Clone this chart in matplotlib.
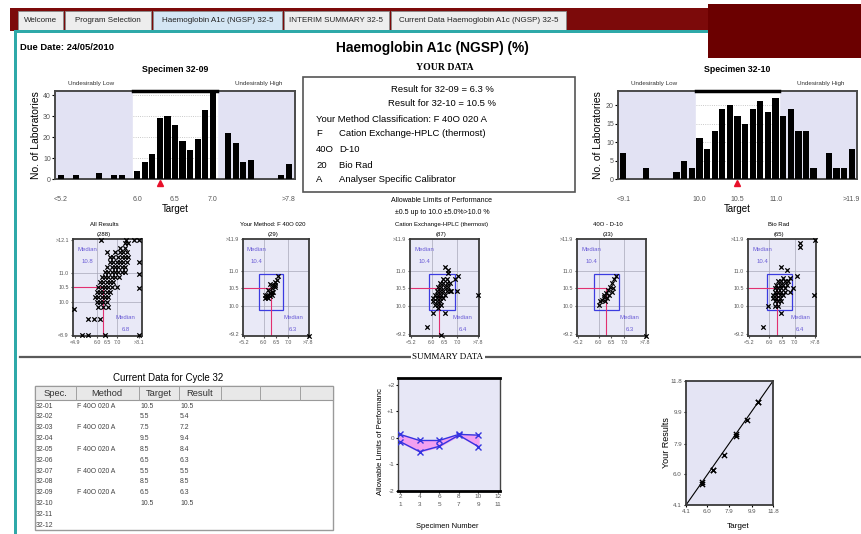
import matplotlib
matplotlib.use('Agg')
import matplotlib.pyplot as plt
import matplotlib.transforms as mtransforms
from matplotlib.patches import Rectangle
from matplotlib import font_manager

# ---------------- data ----------------
tabs = ["Welcome", "Program Selection", "Haemoglobin A1c (NGSP) 32-5",
        "INTERIM SUMMARY 32-5", "Current Data Haemoglobin A1c (NGSP) 32-5"]

spec09_counts = [2, 0, 2, 0, 0, 3, 0, 2, 2, 0, 4, 8, 12, 29, 30, 26, 18, 14, 19, 33, 41,
                 0, 22, 17, 8, 9, 0, 0, 0, 2, 7]
spec09_ticklabels = ['<5.2', '6.0', '6.5', '7.0', '>7.8']
spec10_counts = [7, 0, 0, 3, 0, 0, 0, 2, 5, 3, 11, 8, 13, 19, 20, 17, 15, 19, 21, 18, 22,
                 17, 19, 13, 13, 3, 0, 7, 3, 3, 8]
spec10_ticklabels = ['<9.1', '10.0', '10.5', '11.0', '>11.9']
hist_tick_slots = [0, 10, 15, 20, 30]
result09_slot = 13
result10_slot = 15

your_result = (6.3, 10.5)

youden_titles = ['All Results', 'Your Method: F 40O 020', 'Cation Exchange-HPLC (thermost)',
                 '40O - D-10', 'Bio Rad']
youden_counts = [288, 29, 87, 33, 65]
youden_median_y = [10.8, 10.4, 10.4, 10.4, 10.4]
youden_median_x = [6.8, 6.3, 6.4, 6.3, 6.4]

p1_points = [(6.2, 12.1), (7.45, 12.1), (7.87, 12.1), (8.1, 12.1),
             (7.4, 12.0), (7.57, 12.0), (7.15, 11.83), (7.4, 11.83),
             (6.48, 11.71), (6.9, 11.71), (7.15, 11.71), (7.32, 11.71), (7.48, 11.71),
             (6.65, 11.54), (6.82, 11.54), (7.07, 11.54), (7.23, 11.54), (7.4, 11.54), (7.57, 11.54),
             (6.65, 11.37), (6.82, 11.37), (6.98, 11.37), (7.15, 11.37), (7.32, 11.37), (7.48, 11.37),
             (6.48, 11.2), (6.73, 11.2), (6.9, 11.2), (7.07, 11.2), (7.23, 11.2), (7.4, 11.2),
             (6.4, 11.02), (6.57, 11.02), (6.73, 11.02), (6.9, 11.02), (7.07, 11.02), (7.23, 11.02), (7.4, 11.02),
             (6.23, 10.85), (6.4, 10.85), (6.57, 10.85), (6.73, 10.85), (6.9, 10.85), (7.1, 10.85),
             (6.15, 10.68), (6.32, 10.68), (6.48, 10.68), (6.65, 10.68), (6.82, 10.68),
             (6.07, 10.51), (6.23, 10.51), (6.4, 10.51), (6.57, 10.51), (6.73, 10.51), (6.98, 10.51),
             (5.98, 10.33), (6.15, 10.33), (6.32, 10.33), (6.48, 10.33), (6.65, 10.33),
             (5.9, 10.16), (6.07, 10.16), (6.23, 10.16), (6.4, 10.16), (6.57, 10.16),
             (5.98, 9.99), (6.15, 9.99), (6.32, 9.99), (6.48, 9.99),
             (6.07, 9.82), (6.32, 9.82), (6.57, 9.82),
             (8.1, 11.37), (8.1, 10.97), (8.1, 10.47), (8.1, 8.9), (5.23, 8.9), (5.57, 8.9),
             (6.4, 8.9), (4.85, 9.76), (5.57, 9.44), (5.83, 9.44), (6.13, 9.44)]
p2_points = [(6.59, 10.84), (6.53, 10.74), (6.46, 10.67), (6.39, 10.6), (6.25, 10.62),
             (6.46, 10.54), (6.32, 10.51), (6.19, 10.46), (6.39, 10.41), (6.25, 10.37),
             (6.12, 10.32), (6.25, 10.29), (6.12, 10.25), (6.19, 10.22), (6.05, 10.22),
             (6.32, 10.41), (6.05, 10.3), (6.32, 10.3), (6.46, 10.6), (7.85, 9.15)]
p3_points = [(6.45, 10.76), (6.58, 10.76),
             (6.32, 10.65), (6.45, 10.65), (6.58, 10.65), (6.71, 10.65),
             (6.25, 10.55), (6.38, 10.55), (6.51, 10.55), (6.64, 10.55),
             (6.19, 10.43), (6.32, 10.43), (6.45, 10.43), (6.58, 10.43), (6.71, 10.43),
             (6.12, 10.32), (6.25, 10.32), (6.38, 10.32), (6.51, 10.32),
             (6.06, 10.22), (6.19, 10.22), (6.32, 10.22), (6.45, 10.22),
             (6.06, 10.13), (6.19, 10.13), (6.32, 10.13),
             (6.12, 10.03), (6.25, 10.03), (6.38, 10.03), (6.25, 9.94),
             (6.51, 11.12), (6.64, 11.03), (7.03, 10.86), (6.9, 10.76), (6.97, 10.43),
             (6.77, 10.43), (7.81, 10.32), (6.06, 9.8), (6.51, 9.8), (5.8, 9.4),
             (6.35, 9.18), (6.64, 10.93)]
p4_points = [(6.68, 10.86), (6.6, 10.76), (6.51, 10.65), (6.45, 10.55), (6.55, 10.51),
             (6.38, 10.46), (6.51, 10.41), (6.29, 10.36), (6.42, 10.32), (6.19, 10.25),
             (6.32, 10.22), (6.12, 10.17), (6.25, 10.13), (6.03, 10.03), (6.19, 10.32),
             (6.05, 10.15), (7.85, 9.15)]
p5_points = [(6.54, 10.79), (6.81, 10.79),
             (6.35, 10.7), (6.48, 10.7), (6.61, 10.7), (6.74, 10.7),
             (6.28, 10.6), (6.41, 10.6), (6.54, 10.6), (6.68, 10.6),
             (6.21, 10.51), (6.35, 10.51), (6.48, 10.51), (6.61, 10.51), (6.94, 10.51),
             (6.21, 10.41), (6.35, 10.41), (6.48, 10.41), (6.61, 10.41), (6.81, 10.41),
             (6.15, 10.32), (6.28, 10.32), (6.41, 10.32), (6.54, 10.32),
             (6.15, 10.22), (6.28, 10.22), (6.41, 10.22),
             (6.21, 10.13), (6.35, 10.13), (6.48, 10.13),
             (5.95, 10.0), (6.21, 10.0), (6.35, 10.0),
             (6.48, 11.12), (6.68, 11.03), (7.08, 10.84), (7.21, 11.79), (7.21, 11.67),
             (7.81, 11.88), (7.78, 10.32), (5.75, 9.4), (6.48, 9.8)]

table_spec = ['32-01', '32-02', '32-03', '32-04', '32-05', '32-06', '32-07', '32-08',
              '32-09', '32-10', '32-11', '32-12']
table_method = ['F 40O 020 A', '', 'F 40O 020 A', '', 'F 40O 020 A', '', 'F 40O 020 A', '',
                'F 40O 020 A', '', '', '']
table_target = [10.5, 5.5, 7.5, 9.5, 8.5, 6.5, 5.5, 8.5, 6.5, 10.5]
table_result = [10.5, 5.4, 7.2, 9.4, 8.4, 6.3, 5.5, 8.5, 6.3, 10.5]

pair_pos = [1, 2, 3, 4, 5]
dev_even = [0.13, -0.1, -0.1, 0.13, 0.1]
dev_odd = [-0.14, -0.52, -0.32, 0.1, -0.33]
pair_labels = ['2\n1', '4\n3', '6\n5', '8\n7', '10\n9', '12\n11']

# ---------------- fonts ----------------
available = {f.name for f in font_manager.fontManager.ttflist}
NARROW = [f for f in ['Liberation Sans Narrow', 'DejaVu Sans Condensed', 'Liberation Sans', 'DejaVu Sans']
          if f in available] or ['DejaVu Sans']
SANS = [f for f in ['Liberation Sans', 'DejaVu Sans'] if f in available] or ['DejaVu Sans']
SERIF = [f for f in ['Liberation Serif', 'DejaVu Serif'] if f in available] or ['DejaVu Serif']
IS_NARROW = NARROW[0] in ('Liberation Sans Narrow', 'DejaVu Sans Condensed')
NS = 1.0 if IS_NARROW else 0.9
plt.rcParams['font.family'] = NARROW

# ---------------- figure ----------------
W, H = 862, 534
fig = plt.figure(figsize=(W / 100, H / 100), dpi=100)


def px_axes(l, t, r, b):
    return fig.add_axes([l / W, 1 - b / H, (r - l) / W, (b - t) / H])


bg = px_axes(0, 0, W, H)
bg.set_xlim(0, W)
bg.set_ylim(H, 0)
bg.axis('off')

# header / tabs
bg.add_patch(Rectangle((10, 8), 698, 23, color='#7c0a0a', lw=0))
bg.add_patch(Rectangle((708, 4), 154, 54, color='#6b0000', lw=0))
tab_edges = [18, 65, 153, 284, 391, 568]
for i, name in enumerate(tabs):
    l, r = tab_edges[i], tab_edges[i + 1]
    fc = '#d4e6f4' if i == 2 else '#ededed'
    bg.add_patch(Rectangle((l, 11), r - l - 2, 19, fc=fc, ec='#8a8a8a', lw=0.6))
    bg.text((l + r - 2) / 2, 20.5, name, ha='center', va='center', fontsize=6.4 * NS, color='#222')
bg.add_patch(Rectangle((14, 30), 694, 3, color='#2fa9a9', lw=0))
bg.add_patch(Rectangle((14, 30), 3, 504, color='#2fa9a9', lw=0))

bg.text(20, 48, 'Due Date: 24/05/2010', ha='left', va='center', fontsize=7.5 * NS, weight='bold')
bg.text(432, 48, 'Haemoglobin A1c (NGSP) (%)', ha='center', va='center', fontsize=11 * NS, weight='bold')


# ---------------- histograms ----------------
def histogram(l, r, counts, ticklabels, ymax, yticks, title, res_slot, ylab_x, white, xlo, xhi):
    t, b = 91, 179
    ax = px_axes(l, t, r, b)
    ax.set_facecolor('#e2e2f3')
    ax.axvspan(white[0], white[1], color='white', zorder=0)
    ax.hlines(yticks[1:], white[0], white[1], colors='#b8b8b8', linestyles=':', lw=0.6, zorder=1)
    ax.bar(range(len(counts)), counts, width=0.82, color='black', zorder=3)
    ax.set_xlim(xlo, xhi)
    ax.set_ylim(0, ymax)
    ax.plot([white[0], white[1]], [ymax, ymax], color='black', lw=2.5, clip_on=False, zorder=5)
    ax.set_xticks(hist_tick_slots)
    ax.set_xticklabels(ticklabels)
    ax.set_yticks(yticks)
    ax.tick_params(axis='x', length=0, pad=12, labelsize=5, labelcolor='#555')
    ax.tick_params(axis='y', length=2, pad=1, labelsize=5, labelcolor='#555')
    for s in ax.spines.values():
        s.set_color('#4a4a4a')
        s.set_linewidth(1.4)
    ax.set_xlabel('Target', fontsize=7, family=SANS, labelpad=1)
    trans = mtransforms.blended_transform_factory(ax.transData, ax.transAxes)
    ax.plot([res_slot], [-0.05], marker='^', color='#e8102a', ms=5, transform=trans, clip_on=False)
    ax.text(0.5, 1.25, title, transform=ax.transAxes, ha='center', va='center', fontsize=7 * NS, weight='bold')
    ax.text(0.15, 1.08, 'Undesirably Low', transform=ax.transAxes, ha='center', va='center', fontsize=4.5, color='#333')
    ax.text(0.85, 1.08, 'Undesirably High', transform=ax.transAxes, ha='center', va='center', fontsize=4.5, color='#333')
    bg.text(ylab_x, 135, 'No. of Laboratories', rotation=90, ha='center', va='center', fontsize=7.5, family=SANS)


histogram(55, 295, spec09_counts, spec09_ticklabels, 42, [0, 10, 20, 30, 40], 'Specimen 32-09',
          result09_slot, 36, (9.5, 20.5), -0.8, 30.8)
histogram(618, 857, spec10_counts, spec10_ticklabels, 23.8, [0, 5, 10, 15, 20], 'Specimen 32-10',
          result10_slot, 598, (9.5, 20.4), -0.7, 30.7)

# ---------------- your data box ----------------
bg.text(445, 68, 'YOUR DATA', ha='center', va='center', fontsize=7, family=SERIF, weight='bold')
bg.add_patch(Rectangle((303, 77), 272, 115, fill=False, ec='#555', lw=1.2))
BF = 7.6 * NS
bg.text(442, 89, 'Result for 32-09 = 6.3 %', ha='center', va='center', fontsize=BF)
bg.text(442, 103, 'Result for 32-10 = 10.5 %', ha='center', va='center', fontsize=BF)
bg.text(316, 119, 'Your Method Classification: F 40O 020 A', ha='left', va='center', fontsize=BF)
for y, code, desc in [(134, 'F', 'Cation Exchange-HPLC (thermost)'), (149, '40O', 'D-10'),
                      (165, '20', 'Bio Rad'), (180, 'A', 'Analyser Specific Calibrator')]:
    bg.text(316, y, code, ha='left', va='center', fontsize=BF)
    bg.text(339, y, desc, ha='left', va='center', fontsize=BF)
bg.text(442, 201, 'Allowable Limits of Performance', ha='center', va='center', fontsize=5)
bg.text(442, 213, '±0.5 up to 10.0 ±5.0%>10.0 %', ha='center', va='center', fontsize=5)


# ---------------- youden plots ----------------
def youden(l, r, idx, pts, xlim, ylim, xt, xtl, yt, ytl, box):
    ax = px_axes(l, 239, r, 336)
    ax.set_facecolor('#e9e9f7')
    ax.set_xlim(*xlim)
    ax.set_ylim(*ylim)
    for v in (6.0, 7.0):
        ax.axvline(v, color='#a8a8b8', lw=0.5, zorder=1)
    for v in (10.0, 11.0):
        ax.axhline(v, color='#a8a8b8', lw=0.5, zorder=1)
    mx, my = youden_median_x[idx], youden_median_y[idx]
    if box:
        ax.add_patch(Rectangle((mx - 0.5, my - 0.5), 1.0, 1.0, fill=False, ec='#3c3ce0', lw=0.9, zorder=2))
    ax.plot([xlim[0], your_result[0]], [your_result[1], your_result[1]], color='#e23070', lw=0.8, zorder=2)
    ax.plot([your_result[0], your_result[0]], [ylim[0], your_result[1]], color='#e23070', lw=0.8, zorder=2)
    ax.scatter([p[0] for p in pts], [p[1] for p in pts], marker='x', s=10, c='black',
               linewidths=0.9, zorder=4, clip_on=False)
    ax.set_xticks(xt)
    ax.set_xticklabels(xtl)
    ax.set_yticks(yt)
    ax.set_yticklabels(ytl)
    ax.tick_params(length=1.5, pad=1.5, labelsize=3.8, labelcolor='#555', color='#555')
    for s in ax.spines.values():
        s.set_color('#3a3a3a')
        s.set_linewidth(1.3)
    mc = '#6a5cd6'
    ax.text(0.06, 0.88, 'Median', transform=ax.transAxes, fontsize=4.3, color=mc)
    ax.text(0.12, 0.75, f'{my:.1f}', transform=ax.transAxes, fontsize=4.3, color=mc)
    ax.text(0.62, 0.18, 'Median', transform=ax.transAxes, fontsize=4.3, color=mc)
    ax.text(0.7, 0.05, f'{mx:.1f}', transform=ax.transAxes, fontsize=4.3, color=mc)
    ax.text(0.45, 1.15, youden_titles[idx], transform=ax.transAxes, ha='center', va='center', fontsize=4.3)
    ax.text(0.45, 1.05, f'({youden_counts[idx]})', transform=ax.transAxes, ha='center', va='center', fontsize=4.3)


xt2 = [5.2, 6.0, 6.5, 7.0, 7.8]
xtl2 = ['<5.2', '6.0', '6.5', '7.0', '>7.8']
yt2 = [9.2, 10.0, 10.5, 11.0, 11.9]
ytl2 = ['<9.2', '10.0', '10.5', '11.0', '>11.9']
youden(73, 142, 0, p1_points, (4.8, 8.25), (8.85, 12.15), [4.9, 6.0, 6.5, 7.0, 8.1],
       ['<4.9', '6.0', '6.5', '7.0', '>8.1'], [8.9, 10.0, 10.5, 11.0, 12.1],
       ['<8.9', '10.0', '10.5', '11.0', '>12.1'], False)
youden(243, 309, 1, p2_points, (5.15, 7.85), (9.15, 11.9), xt2, xtl2, yt2, ytl2, True)
youden(410, 479, 2, p3_points, (5.15, 7.85), (9.15, 11.9), xt2, xtl2, yt2, ytl2, True)
youden(577, 646, 3, p4_points, (5.15, 7.85), (9.15, 11.9), xt2, xtl2, yt2, ytl2, True)
youden(748, 816, 4, p5_points, (5.15, 7.85), (9.15, 11.9), xt2, xtl2, yt2, ytl2, True)

# ---------------- summary separator ----------------
bg.plot([20, 860], [357, 357], color='#5a5a5a', lw=1.6)
bg.text(448, 357, 'SUMMARY DATA', ha='center', va='center', fontsize=6.5, family=SERIF,
        bbox=dict(fc='white', ec='none', pad=1))

# ---------------- table ----------------
bg.text(168, 378, 'Current Data for Cycle 32', ha='center', va='center', fontsize=7.8 * NS)
bg.add_patch(Rectangle((35, 386), 298, 144, fc='white', ec='#9a9a9a', lw=1))
bg.add_patch(Rectangle((35, 386), 298, 14, fc='#e8e8e8', ec='#9a9a9a', lw=0.8))
for xsep in [76, 139, 179, 221, 260, 300]:
    bg.plot([xsep, xsep], [386, 400], color='#a0a0a0', lw=0.7)
for cx, lab in [(55, 'Spec.'), (107, 'Method'), (159, 'Target'), (200, 'Result')]:
    bg.text(cx, 393.5, lab, ha='center', va='center', fontsize=7.5 * NS, color='#333')
for i, spec in enumerate(table_spec):
    y = 406 + i * 10.85
    bg.text(36, y, spec, ha='left', va='center', fontsize=5.5 * NS, color='#444')
    bg.text(77, y, table_method[i], ha='left', va='center', fontsize=5.5 * NS, color='#444')
    if i < len(table_target):
        bg.text(140, y, f'{table_target[i]:.1f}', ha='left', va='center', fontsize=5.5 * NS, color='#444')
        bg.text(180, y, f'{table_result[i]:.1f}', ha='left', va='center', fontsize=5.5 * NS, color='#444')

# ---------------- summary deviation chart ----------------
ax = px_axes(398, 378, 500, 491)
ax.set_facecolor('#e7e7f6')
ax.fill_between(pair_pos, dev_even, dev_odd, color='#f2a0f0', zorder=2)
ax.plot(pair_pos, dev_even, color='#3434e0', lw=1, marker='x', ms=4, mew=1, zorder=3)
ax.plot(pair_pos, dev_odd, color='#3434e0', lw=1, marker='x', ms=4, mew=1, zorder=3)
ax.set_xlim(0.9, 6.1)
ax.set_ylim(-2, 2.25)
ax.set_yticks([-2, -1, 0, 1, 2])
ax.set_yticklabels(['-2', '-1', '0', '+1', '+2'])
ax.set_xticks(range(1, 7))
ax.set_xticklabels(pair_labels, linespacing=1.6)
ax.tick_params(length=1.5, pad=1, labelsize=4.6, labelcolor='#555')
for k in ('top', 'bottom'):
    ax.spines[k].set_linewidth(2)
    ax.spines[k].set_color('black')
for k in ('left', 'right'):
    ax.spines[k].set_linewidth(1)
    ax.spines[k].set_color('#444')
bg.text(381, 442, 'Allowable Limits of Performanc', rotation=90, ha='center', va='center',
        fontsize=5.6, family=SANS)
bg.text(447, 527, 'Specimen Number', ha='center', va='center', fontsize=6 * NS)

# ---------------- summary target vs result ----------------
ax = px_axes(686, 381, 773, 505)
ax.set_facecolor('#e4e4f4')
ax.set_xlim(4.1, 11.8)
ax.set_ylim(4.1, 11.8)
ax.plot([4.1, 11.8], [4.1, 11.8], color='black', lw=0.8, zorder=2)
ax.scatter(table_target, table_result, marker='x', s=14, c='black', linewidths=1, zorder=3)
ticks = [4.1, 6.0, 7.9, 9.9, 11.8]
ax.set_xticks(ticks)
ax.set_yticks(ticks)
ax.set_xticklabels([f'{v:.1f}' for v in ticks])
ax.set_yticklabels([f'{v:.1f}' for v in ticks])
ax.tick_params(length=1.5, pad=1.5, labelsize=4.5, labelcolor='#555')
for s in ax.spines.values():
    s.set_color('#3a3a3a')
    s.set_linewidth(1.3)
bg.text(667, 443, 'Your Results', rotation=90, ha='center', va='center', fontsize=6.5, family=SANS)
bg.text(738, 527, 'Target', ha='center', va='center', fontsize=6.5 * NS)

fig.savefig('out.png', dpi=100)
